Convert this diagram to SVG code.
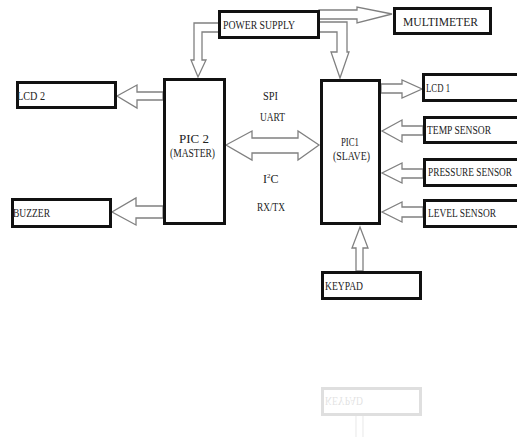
<svg xmlns="http://www.w3.org/2000/svg" width="517" height="437" viewBox="0 0 517 437">
<style>
.box{fill:#fff;stroke:#111;stroke-width:3}
.t{font-family:"Liberation Serif","Times New Roman",serif;font-size:12px;fill:#222}
.ar{fill:#fff;stroke:#808080;stroke-width:1.3;stroke-linejoin:miter}
</style>
<rect width="517" height="437" fill="#fff"/>
<g id="connectors">
<polygon class="ar" points="219,23 194,23 194,60 191,60 198,77 206,60 202,60 202,32 219,32"/>
<polygon class="ar" points="319,22 347,22 347,52 349,52 340,78 331,52 337,52 337,32 319,32"/>
<polygon class="ar" points="319,10 357,10 357,7 392,14 357,23 357,19 319,19"/>
<polygon class="ar" points="163,92 137,92 137,85 117,96 137,108 137,100 163,100"/>
<polygon class="ar" points="163,206 136,206 136,198 112,212 136,225 136,218 163,218"/>
<polygon class="ar" points="226,145 252,131 252,138 298,138 298,131 319,145 298,160 298,153 252,153 252,160"/>
<polygon class="ar" points="381,84 402,84 402,80 422,89 402,98 402,93 381,93"/>
<polygon class="ar" points="423,126 402,126 402,120 382,131 402,142 402,135 423,135"/>
<polygon class="ar" points="423,169 402,169 402,163 382,173 402,183 402,178 423,178"/>
<polygon class="ar" points="423,207 402,207 402,202 382,212 402,222 402,217 423,217"/>
<polygon class="ar" points="356,271 356,248 352,248 360,227 368,248 363,248 363,271"/>
</g>
<g id="power-supply"><rect class="box" x="219.5" y="11.5" width="99" height="26"/><text class="t" x="223" y="29" textLength="72" lengthAdjust="spacingAndGlyphs">POWER SUPPLY</text></g>
<g id="multimeter"><rect class="box" x="394.5" y="8.5" width="96" height="25"/><text class="t" x="403" y="26" textLength="75" lengthAdjust="spacingAndGlyphs">MULTIMETER</text></g>
<g id="lcd2"><rect class="box" x="17.5" y="82.5" width="98" height="25"/><text class="t" x="17" y="100" textLength="28" lengthAdjust="spacingAndGlyphs">LCD 2</text></g>
<g id="buzzer"><rect class="box" x="12.5" y="199.5" width="98" height="27"/><text class="t" x="13" y="217" textLength="37" lengthAdjust="spacingAndGlyphs">BUZZER</text></g>
<g id="pic2"><rect class="box" x="164.5" y="79.5" width="60" height="144"/><text class="t" x="179" y="143" textLength="30" lengthAdjust="spacingAndGlyphs">PIC 2</text><text class="t" x="170" y="157" textLength="45" lengthAdjust="spacingAndGlyphs">(MASTER)</text></g>
<g id="pic1"><rect class="box" x="321.5" y="80.5" width="58" height="143"/><text class="t" x="341" y="146" textLength="18" lengthAdjust="spacingAndGlyphs">PIC1</text><text class="t" x="333" y="160" textLength="37" lengthAdjust="spacingAndGlyphs">(SLAVE)</text></g>
<g id="bus-labels">
<text class="t" x="263" y="100" textLength="15" lengthAdjust="spacingAndGlyphs">SPI</text>
<text class="t" x="260" y="121" textLength="25" lengthAdjust="spacingAndGlyphs">UART</text>
<text class="t" x="263" y="183">I<tspan font-size="7" dy="-5">2</tspan><tspan dy="5">C</tspan></text>
<text class="t" x="257" y="211" textLength="28" lengthAdjust="spacingAndGlyphs">RX/TX</text>
</g>
<g id="lcd1"><rect class="box" x="423.5" y="74.5" width="100" height="26"/><text class="t" x="426" y="92" textLength="24" lengthAdjust="spacingAndGlyphs">LCD 1</text></g>
<g id="temp-sensor"><rect class="box" x="424.5" y="117.5" width="100" height="25"/><text class="t" x="427" y="134" textLength="64" lengthAdjust="spacingAndGlyphs">TEMP SENSOR</text></g>
<g id="pressure-sensor"><rect class="box" x="424.5" y="159.5" width="100" height="26"/><text class="t" x="428" y="176" textLength="84" lengthAdjust="spacingAndGlyphs">PRESSURE SENSOR</text></g>
<g id="level-sensor"><rect class="box" x="424.5" y="200.5" width="100" height="26"/><text class="t" x="428" y="217" textLength="68" lengthAdjust="spacingAndGlyphs">LEVEL SENSOR</text></g>
<g id="keypad"><rect class="box" x="322.5" y="272.5" width="98" height="26"/><text class="t" x="325" y="290" textLength="38" lengthAdjust="spacingAndGlyphs">KEYPAD</text></g>
<g id="keypad-reflection" opacity="0.13" transform="translate(0,687) scale(1,-1)">
<polyline points="356,271 356,250" fill="none" stroke="#808080" stroke-width="1.3"/>
<polyline points="363,271 363,250" fill="none" stroke="#808080" stroke-width="1.3"/>
<rect class="box" x="322.5" y="272.5" width="98" height="26"/><text class="t" x="325" y="290" textLength="38" lengthAdjust="spacingAndGlyphs">KEYPAD</text>
</g>
</svg>
